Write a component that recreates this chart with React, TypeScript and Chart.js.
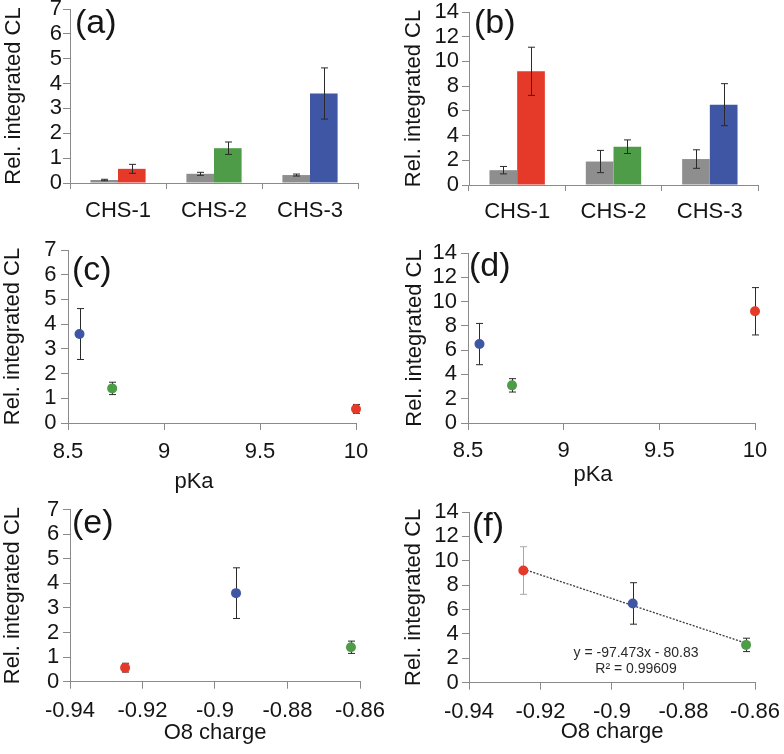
import React, { useEffect, useRef } from 'react';
import { Chart, registerables } from 'chart.js';

Chart.register(...registerables);

// ---------------- data ----------------
const categories = ['CHS-1', 'CHS-2', 'CHS-3'];
const pKa = [10.0, 8.73, 8.56];
const o8Charge = [-0.9248, -0.8625, -0.8942];

const controlA = [0.12, 0.37, 0.32];
const controlAErr = [0.03, 0.06, 0.04];
const chsA = [0.57, 1.4, 3.6];
const chsAErr = [0.18, 0.25, 1.03];

const controlB = [1.2, 1.9, 2.1];
const controlBErr = [0.3, 0.9, 0.75];
const chsB = [9.2, 3.1, 6.5];
const chsBErr = [1.95, 0.55, 1.7];

const yTicksA = [0, 1, 2, 3, 4, 5, 6, 7];
const yTicksB = [0, 2, 4, 6, 8, 10, 12, 14];
const pKaTicks = [8.5, 9, 9.5, 10];
const chargeTicks = [-0.94, -0.92, -0.9, -0.88, -0.86];

const trendSlope = -97.473;
const trendIntercept = -80.83;
const trendR2 = 0.99609;

const yTitle = 'Rel. integrated CL';
const pKaTitle = 'pKa';
const chargeTitle = 'O8 charge';
const panelLabels = ['(a)', '(b)', '(c)', '(d)', '(e)', '(f)'];

// ---------------- styles ----------------
const FONT = "'Liberation Sans', Arial, Helvetica, sans-serif";
const seriesColors = ['#e5392a', '#4e9b48', '#3f56a4'];
const controlColor = '#8e8e8e';
const axisColor = '#8a8a8a';
const textColor = '#151515';
const errColor = '#2a2a2a';

type Area = { L: number; R: number; T: number; B: number };

const panels: any[] = [
  {
    id: 'a', kind: 'bar', left: 0, top: 0, w: 392, h: 250,
    area: { L: 70, R: 358, T: 9, B: 183 }, yMax: 7, yTicks: yTicksA,
    control: controlA, controlErr: controlAErr, chs: chsA, chsErr: chsAErr,
    yTickPad: 1, xTickPad: 8.5, yTitlePad: 1,
    label: panelLabels[0], labelPos: [75, 33],
  },
  {
    id: 'b', kind: 'bar', left: 392, top: 0, w: 392, h: 250,
    area: { L: 77, R: 366, T: 12, B: 185 }, yMax: 14, yTicks: yTicksB,
    control: controlB, controlErr: controlBErr, chs: chsB, chsErr: chsBErr,
    yTickPad: 3, xTickPad: 8, yTitlePad: 9,
    label: panelLabels[1], labelPos: [82, 33],
  },
  {
    id: 'c', kind: 'scatter', left: 0, top: 230, w: 392, h: 270,
    area: { L: 68, R: 356, T: 20, B: 193 }, yMax: 7, yTicks: yTicksA,
    xs: pKa, xMin: 8.5, xMax: 10, xTicks: pKaTicks, ys: chsA, yErr: chsAErr,
    yTickPad: 4.5, xTickPad: 9, yTitlePad: 0,
    label: panelLabels[2], labelPos: [72, 50],
    xTitle: pKaTitle, xTitlePos: [194, 251.5],
    errColors: [errColor, errColor, errColor],
  },
  {
    id: 'd', kind: 'scatter', left: 392, top: 230, w: 392, h: 270,
    area: { L: 76, R: 363, T: 23, B: 193 }, yMax: 14, yTicks: yTicksB,
    xs: pKa, xMin: 8.5, xMax: 10, xTicks: pKaTicks, ys: chsB, yErr: chsBErr,
    yTickPad: 4, xTickPad: 7.5, yTitlePad: 10,
    label: panelLabels[3], labelPos: [77, 46],
    xTitle: pKaTitle, xTitlePos: [201, 244.5],
    errColors: [errColor, errColor, errColor],
  },
  {
    id: 'e', kind: 'scatter', left: 0, top: 480, w: 392, h: 274,
    area: { L: 70, R: 360, T: 29.5, B: 201.7 }, yMax: 7, yTicks: yTicksA,
    xs: o8Charge, xMin: -0.94, xMax: -0.86, xTicks: chargeTicks, ys: chsA, yErr: chsAErr,
    yTickPad: 3.7, xTickPad: 8.8, yTitlePad: 0,
    label: panelLabels[4], labelPos: [72, 53],
    xTitle: chargeTitle, xTitlePos: [215, 253],
    errColors: [errColor, errColor, errColor],
  },
  {
    id: 'f', kind: 'scatter', left: 392, top: 480, w: 392, h: 274,
    area: { L: 77, R: 363, T: 32, B: 202.7 }, yMax: 14, yTicks: yTicksB,
    xs: o8Charge, xMin: -0.94, xMax: -0.86, xTicks: chargeTicks, ys: chsB, yErr: chsBErr,
    yTickPad: 3.3, xTickPad: 9.5, yTitlePad: 9,
    label: panelLabels[5], labelPos: [80, 55.5],
    xTitle: chargeTitle, xTitlePos: [220, 252],
    errColors: ['#a8a8a8', errColor, errColor],
    trend: true, eqPos: [244, 173],
  },
];

const X_AXIS_H = 40;

function zeroPad(s: any) {
  s.paddingTop = 0;
  s.paddingBottom = 0;
  s.paddingLeft = 0;
  s.paddingRight = 0;
}

function drawErrorBars(chart: any, dsIndex: number, values: number[], errs: number[], colors: string[]) {
  const ctx = chart.ctx;
  const ys = chart.scales.y;
  const meta = chart.getDatasetMeta(dsIndex);
  values.forEach((v, j) => {
    const el = meta.data[j];
    if (!el) return;
    const x = Math.round(el.x) + 0.5;
    const top = ys.getPixelForValue(v + errs[j]);
    const bot = ys.getPixelForValue(v - errs[j]);
    ctx.save();
    ctx.strokeStyle = colors[j];
    ctx.lineWidth = 1;
    ctx.beginPath();
    ctx.moveTo(x, top);
    ctx.lineTo(x, bot);
    ctx.moveTo(x - 3.5, top);
    ctx.lineTo(x + 3.5, top);
    ctx.moveTo(x - 3.5, bot);
    ctx.lineTo(x + 3.5, bot);
    ctx.stroke();
    ctx.restore();
  });
}

function buildChart(canvas: HTMLCanvasElement, p: any) {
  const a: Area = p.area;
  const padding = { left: 0, top: a.T, right: p.w - a.R, bottom: p.h - a.B - X_AXIS_H };

  const yScale: any = {
    type: 'linear',
    min: 0,
    max: p.yMax,
    afterBuildTicks: (s: any) => {
      s.ticks = p.yTicks.map((v: number) => ({ value: v }));
    },
    afterFit: (s: any) => {
      s.width = a.L;
      zeroPad(s);
    },
    grid: { drawOnChartArea: false, drawTicks: true, tickLength: 7, color: axisColor, lineWidth: 1 },
    border: { display: true, color: axisColor, width: 1 },
    ticks: {
      color: textColor,
      font: { family: FONT, size: 22 },
      padding: p.yTickPad,
      autoSkip: false,
      callback: (v: any) => String(v),
    },
    title: {
      display: true,
      text: yTitle,
      color: textColor,
      font: { family: FONT, size: 22 },
      padding: { top: p.yTitlePad, bottom: 0 },
    },
  };

  let xScale: any;
  let datasets: any[];
  if (p.kind === 'bar') {
    xScale = {
      type: 'category',
      labels: categories,
      offset: true,
      afterFit: (s: any) => {
        s.height = X_AXIS_H;
        zeroPad(s);
      },
      grid: { offset: true, drawOnChartArea: false, drawTicks: true, tickLength: 6, color: axisColor, lineWidth: 1 },
      border: { display: true, color: axisColor, width: 1 },
      ticks: { color: textColor, font: { family: FONT, size: 22 }, padding: p.xTickPad, maxRotation: 0, autoSkip: false },
    };
    datasets = [
      {
        label: 'control',
        data: p.control,
        backgroundColor: controlColor,
        borderWidth: 0,
        categoryPercentage: 0.575,
        barPercentage: 1,
      },
      {
        label: 'CHS',
        data: p.chs,
        backgroundColor: seriesColors,
        borderWidth: 0,
        categoryPercentage: 0.575,
        barPercentage: 1,
      },
    ];
  } else {
    xScale = {
      type: 'linear',
      min: p.xMin,
      max: p.xMax,
      afterBuildTicks: (s: any) => {
        s.ticks = p.xTicks.map((v: number) => ({ value: v }));
      },
      afterFit: (s: any) => {
        s.height = X_AXIS_H;
        zeroPad(s);
      },
      grid: { drawOnChartArea: false, drawTicks: true, tickLength: 7, color: axisColor, lineWidth: 1 },
      border: { display: true, color: axisColor, width: 1 },
      ticks: {
        color: textColor,
        font: { family: FONT, size: 22 },
        padding: p.xTickPad,
        maxRotation: 0,
        autoSkip: false,
        callback: (v: any) => String(v),
      },
    };
    datasets = [
      {
        label: 'CHS',
        data: p.xs.map((x: number, i: number) => ({ x, y: p.ys[i] })),
        pointBackgroundColor: seriesColors,
        pointBorderColor: seriesColors,
        pointBorderWidth: 0,
        pointRadius: 5,
        showLine: false,
        clip: false,
      },
    ];
    if (p.trend) {
      const xLo = Math.min(...p.xs);
      const xHi = Math.max(...p.xs);
      datasets.push({
        label: 'trend',
        data: [
          { x: xLo, y: trendSlope * xLo + trendIntercept },
          { x: xHi, y: trendSlope * xHi + trendIntercept },
        ],
        showLine: true,
        borderColor: '#3a3a3a',
        borderWidth: 1.3,
        borderDash: [2, 1.5],
        pointRadius: 0,
        fill: false,
        clip: false,
      });
    }
  }

  const decor = {
    id: 'decor',
    beforeDatasetsDraw(chart: any) {
      if (p.kind === 'scatter') drawErrorBars(chart, 0, p.ys, p.yErr, p.errColors);
    },
    afterDatasetsDraw(chart: any) {
      if (p.kind === 'bar') {
        drawErrorBars(chart, 0, p.control, p.controlErr, [errColor, errColor, errColor]);
        drawErrorBars(chart, 1, p.chs, p.chsErr, [errColor, errColor, errColor]);
      }
    },
    afterDraw(chart: any) {
      const ctx = chart.ctx;
      ctx.save();
      ctx.fillStyle = textColor;
      ctx.font = `34px ${FONT}`;
      ctx.textAlign = 'left';
      ctx.textBaseline = 'alphabetic';
      ctx.fillText(p.label, p.labelPos[0], p.labelPos[1]);
      if (p.xTitle) {
        ctx.font = `22px ${FONT}`;
        ctx.textAlign = 'center';
        ctx.textBaseline = 'middle';
        ctx.fillText(p.xTitle, p.xTitlePos[0], p.xTitlePos[1]);
      }
      if (p.trend) {
        ctx.font = `14px ${FONT}`;
        ctx.fillStyle = '#2a2a2a';
        ctx.textAlign = 'center';
        ctx.textBaseline = 'middle';
        const b = Math.abs(trendIntercept);
        ctx.fillText(`y = ${trendSlope}x - ${b}`, p.eqPos[0], p.eqPos[1]);
        ctx.fillText(`R² = ${trendR2}`, p.eqPos[0], p.eqPos[1] + 16);
      }
      ctx.restore();
    },
  };

  return new Chart(canvas, {
    type: p.kind === 'bar' ? 'bar' : 'scatter',
    data: p.kind === 'bar' ? { labels: categories, datasets } : { datasets },
    options: {
      animation: false,
      responsive: false,
      maintainAspectRatio: false,
      events: [],
      layout: { padding },
      plugins: {
        legend: { display: false },
        tooltip: { enabled: false },
        title: { display: false },
      },
      scales: { x: xScale, y: yScale },
    } as any,
    plugins: [decor],
  } as any);
}

function PanelChart({ p }: { p: any }) {
  const ref = useRef<HTMLCanvasElement | null>(null);
  useEffect(() => {
    if (!ref.current) return;
    const chart = buildChart(ref.current, p);
    return () => chart.destroy();
  }, [p]);
  return (
    <canvas
      ref={ref}
      width={p.w}
      height={p.h}
      style={{ position: 'absolute', left: p.left, top: p.top, width: p.w, height: p.h }}
    />
  );
}

export default function App() {
  return (
    <div
      style={{
        position: 'absolute',
        left: 0,
        top: 0,
        width: 784,
        height: 754,
        background: '#ffffff',
        overflow: 'hidden',
      }}
    >
      {panels.map((p) => (
        <PanelChart key={p.id} p={p} />
      ))}
    </div>
  );
}
